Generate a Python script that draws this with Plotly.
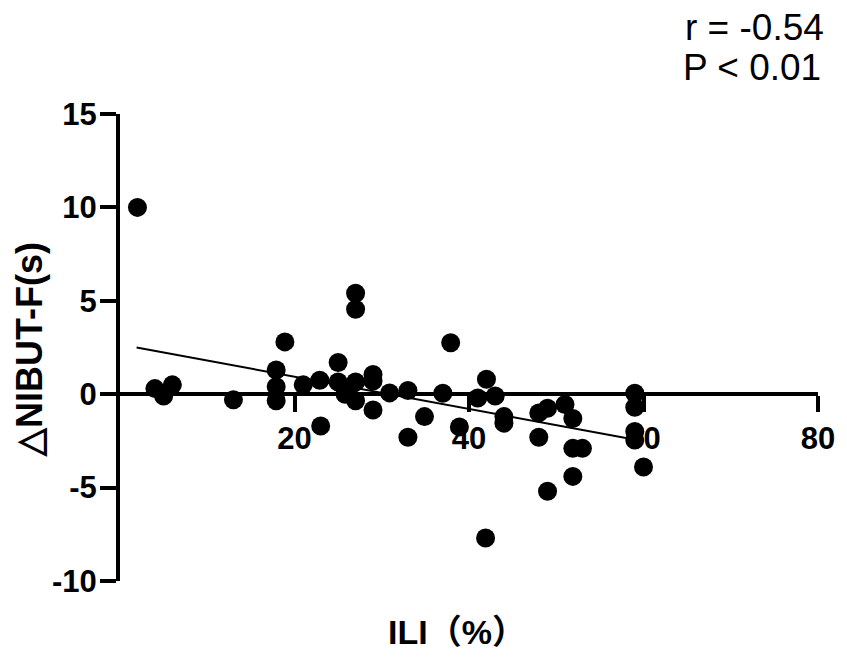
import plotly.graph_objects as go

# ILI (%) vs change in NIBUT-F (s)
ili = [2.0, 4.0, 5.0, 6.0, 13.0, 17.9, 17.9, 17.9, 18.9, 21.0,
       22.9, 23.0, 25.0, 25.0, 25.8, 26.2, 27.0, 27.0, 27.0, 27.0,
       29.0, 29.0, 29.0, 30.9, 33.0, 33.0, 34.9, 37.0, 37.9, 38.9,
       41.0, 42.0, 43.0, 41.9, 44.0, 44.0, 48.0, 49.0, 48.0, 49.0,
       51.0, 51.9, 51.9, 53.0, 51.9, 59.0, 59.0, 59.0, 59.0, 60.0]
d_nibut = [10.0, 0.3, -0.1, 0.5, -0.3, 1.3, 0.4, -0.35, 2.8, 0.5,
           0.75, -1.7, 1.7, 0.65, 0.0, 0.25, 5.4, 4.55, 0.65, -0.35,
           1.05, 0.7, -0.85, 0.07, 0.2, -2.3, -1.2, 0.05, 2.75, -1.75,
           -0.2, 0.8, -0.1, -7.7, -1.2, -1.55, -1.0, -0.75, -2.3, -5.2,
           -0.55, -1.3, -2.9, -2.9, -4.4, 0.05, -0.7, -2.0, -2.45, -3.9]

# regression line end points as drawn
fit_x = [1.9, 58.3]
fit_y = [2.5, -2.37]

x_ticks = [20, 40, 60, 80]
y_ticks = [-10, -5, 0, 5, 10, 15]

font_family = "Liberation Sans, Arial, sans-serif"

fig = go.Figure()
fig.add_trace(go.Scatter(x=fit_x, y=fit_y, mode="lines",
                         line=dict(color="black", width=2), hoverinfo="skip"))
fig.add_trace(go.Scatter(x=ili, y=d_nibut, mode="markers",
                         marker=dict(color="black", size=19)))

# page body adds an 8px margin, so the figure is a bit smaller than the window
fig.update_layout(
    width=839, height=649,
    margin=dict(l=112, r=27, t=106, b=76),
    paper_bgcolor="white", plot_bgcolor="white",
    showlegend=False,
    font=dict(family=font_family, color="black"),
)

# x axis sits on y = 0 (0.4 of the y range -10..15)
fig.update_xaxes(
    range=[0, 80], anchor="free", position=0.4,
    showline=True, linecolor="black", linewidth=4,
    ticks="outside", ticklen=16, tickwidth=4, tickcolor="black",
    tickvals=x_ticks, ticktext=[str(v) for v in x_ticks],
    tickfont=dict(size=31, family=font_family, weight="bold"),
    showgrid=False, zeroline=False,
)
fig.update_yaxes(
    range=[-10, 15],
    showline=True, linecolor="black", linewidth=4,
    ticks="outside", ticklen=16, tickwidth=4, tickcolor="black",
    tickvals=y_ticks, ticktext=[str(v) for v in y_ticks],
    tickfont=dict(size=31, family=font_family, weight="bold"),
    ticklabelstandoff=-3,
    showgrid=False, zeroline=False,
)

fig.add_annotation(text="ILI（%）", xref="paper", yref="paper",
                   x=0.483, y=0, yshift=-51, xanchor="center", yanchor="middle",
                   showarrow=False,
                   font=dict(size=34, family=font_family + ", Noto Sans CJK SC", weight="bold"))
fig.add_annotation(text="△NIBUT-F(s)", xref="paper", yref="paper",
                   x=-0.1286, y=0.495, xanchor="center", yanchor="middle",
                   textangle=-90, showarrow=False,
                   font=dict(size=36, family=font_family, weight="bold"))
fig.add_annotation(text="r = -0.54", xref="paper", yref="paper",
                   x=1.011, y=1.186, xanchor="right", yanchor="middle",
                   showarrow=False, font=dict(size=37, family=font_family))
fig.add_annotation(text="P < 0.01", xref="paper", yref="paper",
                   x=1.007, y=1.10, xanchor="right", yanchor="middle",
                   showarrow=False, font=dict(size=37, family=font_family))

fig.write_html("out.html")
